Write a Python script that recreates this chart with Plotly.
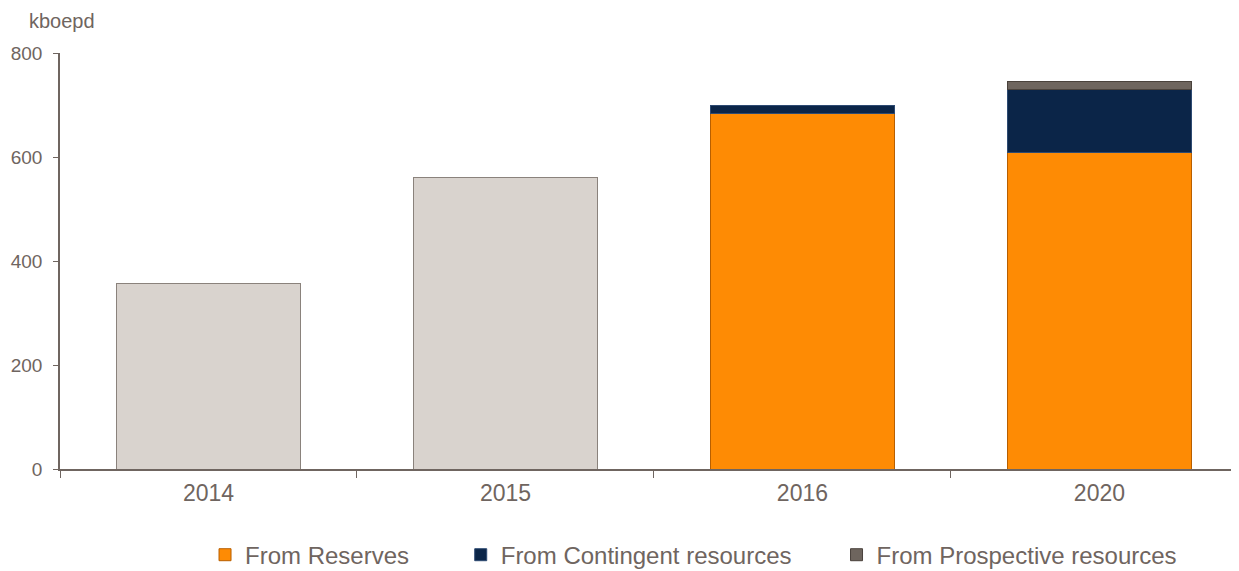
import plotly.graph_objects as go

years = ["2014", "2015", "2016", "2020"]
production = [356, 560, None, None]
reserves = [None, None, 683, 608]
contingent = [None, None, 17, 121]
prospective = [None, None, None, 17]

TXT = "#6f6560"
fig = go.Figure()
fig.add_bar(x=years, y=production, name="Production", showlegend=False,
            marker=dict(color="#d9d3ce", line=dict(color="#8a827c", width=1)))
fig.add_bar(x=years, y=reserves, name="From Reserves" + "\u00a0" * 7,
            marker=dict(color="#fe8b04", line=dict(color="#b85f00", width=1)))
fig.add_bar(x=years, y=contingent, name="From Contingent resources" + "\u00a0" * 6,
            marker=dict(color="#0b2548", line=dict(color="#2d4a72", width=1)))
fig.add_bar(x=years, y=prospective, name="From Prospective resources",
            marker=dict(color="#6e655e", line=dict(color="#4a423c", width=1)))

fig.update_layout(
    width=1231, height=563, barmode="stack", bargap=0.38,
    plot_bgcolor="white", paper_bgcolor="white",
    margin=dict(l=52, r=0, t=45, b=102, autoexpand=False),
    font=dict(family="Liberation Sans, Arial", color=TXT, size=19),
    legend=dict(orientation="h", x=0.123, xanchor="left", y=-0.207, yanchor="middle",
                font=dict(size=24, color=TXT), traceorder="normal"),
)
fig.update_xaxes(range=[-0.5, 3.47], showline=True, linecolor=TXT, linewidth=1.5,
                 ticks="outside", tickson="boundaries", ticklen=7, tickcolor=TXT,
                 ticklabelstandoff=3, tickfont=dict(size=23, color=TXT))
fig.update_yaxes(range=[0, 800], tickvals=[0, 200, 400, 600, 800], showline=True,
                 linecolor=TXT, linewidth=1.5, ticks="outside", ticklen=5, tickcolor=TXT,
                 ticklabelstandoff=7, showgrid=False, zeroline=False,
                 tickfont=dict(size=19, color=TXT))
fig.add_annotation(text="kboepd", xref="paper", yref="paper", x=-0.028, y=1.077,
                   xanchor="left", yanchor="middle", showarrow=False,
                   font=dict(size=20, color=TXT))
fig.write_html("out.html")
